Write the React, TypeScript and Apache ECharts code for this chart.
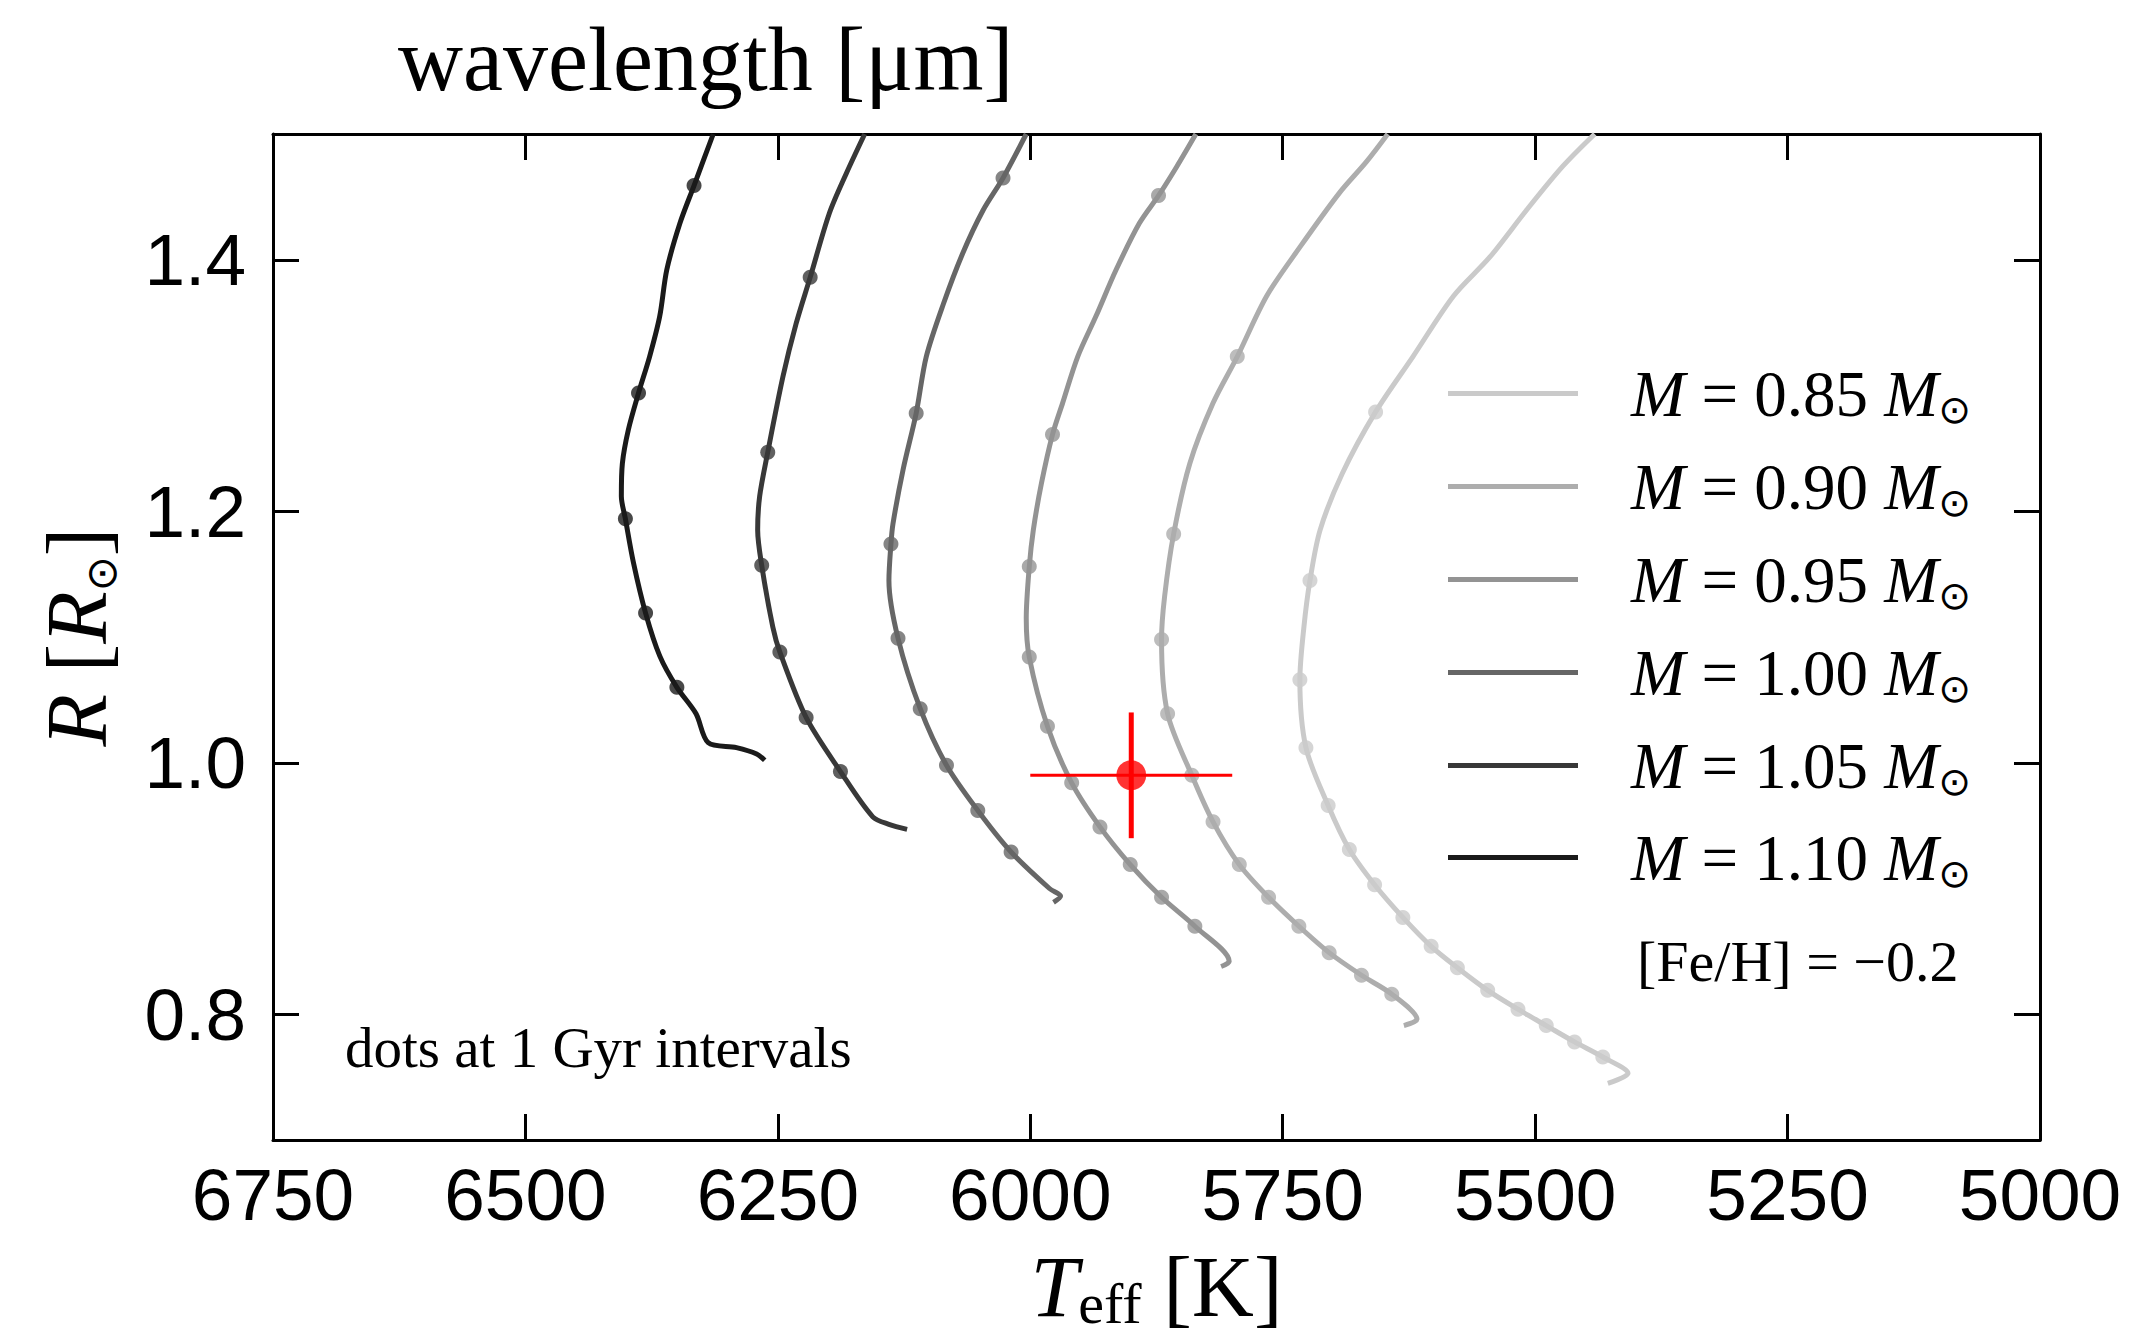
import React, { useEffect, useRef } from "react";
import * as echarts from "echarts";

const SERIF = "'Liberation Serif', 'Times New Roman', serif";
const SANS = "'Liberation Sans', Arial, sans-serif";
const SYM = "'DejaVu Sans', sans-serif";

const masses = ["0.85", "0.90", "0.95", "1.00", "1.05", "1.10"];
const trackColors = ["#cacaca", "#adadad", "#939393", "#666666", "#383838", "#1a1a1a"];

// Evolutionary tracks: [Teff (K), R (Rsun)]
const track085 = [
  [5441, 1.5], [5473, 1.474], [5509, 1.439], [5545, 1.402], [5581, 1.371], [5621, 1.323],
  [5658, 1.279], [5691, 1.23], [5713, 1.185], [5723, 1.145], [5729, 1.108], [5733, 1.066],
  [5727, 1.012], [5705, 0.966], [5684, 0.931], [5659, 0.903], [5631, 0.877], [5603, 0.854],
  [5577, 0.837], [5547, 0.819], [5517, 0.804], [5489, 0.791], [5461, 0.778], [5433, 0.766],
  [5408, 0.753], [5428, 0.745],
];
const track090 = [
  [5646, 1.5], [5667, 1.478], [5694, 1.453], [5733, 1.41], [5766, 1.371], [5795, 1.323],
  [5819, 1.286], [5842, 1.238], [5858, 1.182], [5867, 1.132], [5870, 1.098], [5864, 1.039],
  [5840, 0.99], [5819, 0.953], [5793, 0.919], [5764, 0.893], [5734, 0.87], [5704, 0.849],
  [5672, 0.831], [5642, 0.816], [5617, 0.796], [5630, 0.791],
];
const track095 = [
  [5836, 1.5], [5855, 1.474], [5873, 1.451], [5892, 1.429], [5915, 1.392], [5935, 1.355],
  [5953, 1.323], [5968, 1.286], [5978, 1.261], [5989, 1.222], [5997, 1.185], [6001, 1.156],
  [6004, 1.115], [6001, 1.084], [5983, 1.029], [5959, 0.984], [5931, 0.949], [5901, 0.919],
  [5870, 0.893], [5837, 0.87], [5803, 0.842], [5811, 0.838],
];
const track100 = [
  [6004, 1.5], [6027, 1.465], [6047, 1.439], [6067, 1.405], [6086, 1.365], [6103, 1.323],
  [6113, 1.278], [6126, 1.233], [6136, 1.19], [6138, 1.174], [6140, 1.145], [6131, 1.099],
  [6109, 1.043], [6083, 0.998], [6052, 0.962], [6019, 0.929], [5981, 0.9], [5970, 0.894],
  [5977, 0.889],
];
const track105 = [
  [6164, 1.5], [6182, 1.469], [6199, 1.437], [6218, 1.386], [6232, 1.349], [6245, 1.307],
  [6260, 1.247], [6268, 1.212], [6270, 1.185], [6266, 1.157], [6255, 1.108], [6248, 1.088],
  [6222, 1.036], [6188, 0.993], [6156, 0.957], [6140, 0.951], [6122, 0.947],
];
const track110 = [
  [6314, 1.5], [6333, 1.459], [6347, 1.429], [6360, 1.392], [6367, 1.355], [6377, 1.323],
  [6388, 1.294], [6398, 1.265], [6404, 1.238], [6405, 1.212], [6401, 1.194], [6393, 1.159],
  [6381, 1.119], [6367, 1.085], [6350, 1.06], [6331, 1.039], [6319, 1.016], [6291, 1.012],
  [6271, 1.007], [6263, 1.002],
];

// Dots at 1 Gyr intervals
const dots085 = [
  [5658, 1.279], [5723, 1.145], [5733, 1.066], [5727, 1.012], [5705, 0.966], [5684, 0.931],
  [5659, 0.903], [5631, 0.877], [5603, 0.854], [5577, 0.837], [5547, 0.819], [5517, 0.804],
  [5489, 0.791], [5461, 0.778], [5433, 0.766],
];
const dots090 = [
  [5795, 1.323], [5858, 1.182], [5870, 1.098], [5864, 1.039], [5840, 0.99], [5819, 0.953],
  [5793, 0.919], [5764, 0.893], [5734, 0.87], [5704, 0.849], [5672, 0.831], [5642, 0.816],
];
const dots095 = [
  [5873, 1.451], [5978, 1.261], [6001, 1.156], [6001, 1.084], [5983, 1.029], [5959, 0.984],
  [5931, 0.949], [5901, 0.919], [5870, 0.893], [5837, 0.87],
];
const dots100 = [
  [6027, 1.465], [6113, 1.278], [6138, 1.174], [6131, 1.099], [6109, 1.043], [6083, 0.998],
  [6052, 0.962], [6019, 0.929],
];
const dots105 = [
  [6218, 1.386], [6260, 1.247], [6266, 1.157], [6248, 1.088], [6222, 1.036], [6188, 0.993],
];
const dots110 = [
  [6333, 1.459], [6388, 1.294], [6401, 1.194], [6381, 1.119], [6350, 1.06],
];

const tracks = [track085, track090, track095, track100, track105, track110];
const dots = [dots085, dots090, dots095, dots100, dots105, dots110];

// Observed star
const obsTeff = 5900;
const obsTeffErr = 100;
const obsR = 0.99;
const obsRErr = 0.05;

const yTickValues = [0.8, 1.0, 1.2, 1.4];
const legendCenters = [396, 489, 582, 675, 768, 860];

const seriesName = (m: string) => `M = ${m} M⊙`;

export default function App() {
  const ref = useRef<HTMLDivElement>(null);
  useEffect(() => {
    if (!ref.current) return;
    const chart = echarts.init(ref.current, undefined, { renderer: "svg" });

    const lineSeries = tracks.map((d, i) => ({
      type: "line",
      name: seriesName(masses[i]),
      data: d,
      smooth: 0.3,
      symbol: "none",
      showSymbol: false,
      color: trackColors[i],
      lineStyle: { width: 5, color: trackColors[i] },
      xAxisIndex: 0,
      yAxisIndex: 0,
      z: 2,
      silent: true,
    }));
    const dotSeries = dots.map((d, i) => ({
      type: "scatter",
      name: "dots " + masses[i],
      data: d,
      symbol: "circle",
      symbolSize: 15,
      itemStyle: { color: trackColors[i] },
      xAxisIndex: 0,
      yAxisIndex: 0,
      z: 3,
      silent: true,
    }));

    const legendRich = {
      sp: { width: 48, fontSize: 62, lineHeight: 70 },
      i: { fontFamily: SERIF, fontStyle: "italic", fontSize: 65, lineHeight: 70, color: "#000" },
      n: { fontFamily: SERIF, fontSize: 65, lineHeight: 70, color: "#000" },
      s: { fontFamily: SYM, fontSize: 39, lineHeight: 24, verticalAlign: "bottom", color: "#000" },
    };

    const legends = masses.map((m, i) => ({
      data: [seriesName(m)],
      left: 1448,
      top: legendCenters[i] - 35,
      padding: 0,
      icon: "rect",
      itemWidth: 130,
      itemHeight: 5,
      selectedMode: false,
      itemStyle: { borderWidth: 0 },
      formatter: () => `{sp| }{i|M}{n| = ${m} }{i|M}{s|⊙}`,
      textStyle: { rich: legendRich },
    }));

    const axisLineStyle = { color: "#000", width: 3 };

    const option = {
      animation: false,
      backgroundColor: "#fff",
      textStyle: { fontFamily: SANS },
      grid: { left: 273, right: 92, top: 134, bottom: 204, containLabel: false },
      title: [
        {
          text: "wavelength [μm]",
          left: 398,
          top: 13,
          padding: 0,
          textStyle: { fontFamily: SERIF, fontSize: 90, fontWeight: "normal", color: "#000", lineHeight: 92 },
        },
        {
          text: "dots at 1 Gyr intervals",
          left: 345,
          top: 1020,
          padding: 0,
          textStyle: { fontFamily: SERIF, fontSize: 57, fontWeight: "normal", color: "#000", lineHeight: 54 },
        },
        {
          text: "[Fe/H] = −0.2",
          left: 1637,
          top: 935,
          padding: 0,
          textStyle: { fontFamily: SERIF, fontSize: 58, fontWeight: "normal", color: "#000", lineHeight: 52 },
        },
      ],
      legend: legends,
      xAxis: [
        {
          type: "value",
          position: "bottom",
          min: 5000,
          max: 6750,
          interval: 250,
          inverse: true,
          splitLine: { show: false },
          axisLine: { show: true, lineStyle: axisLineStyle },
          axisTick: { show: true, inside: true, length: 26, lineStyle: { color: "#000", width: 3 } },
          axisLabel: {
            show: true,
            margin: 18,
            fontFamily: SANS,
            fontSize: 73,
            color: "#000",
            showMinLabel: true,
            showMaxLabel: true,
            formatter: (v: number) => String(Math.round(v)),
          },
          name: "{i|T}{e|eff}{n| [K]}",
          nameLocation: "middle",
          nameGap: 102,
          nameTextStyle: {
            rich: {
              i: { fontFamily: SERIF, fontStyle: "italic", fontSize: 86, lineHeight: 90, color: "#000" },
              e: { fontFamily: SERIF, fontSize: 58, lineHeight: 41, verticalAlign: "bottom", color: "#000" },
              n: { fontFamily: SERIF, fontSize: 86, lineHeight: 90, color: "#000" },
            },
          },
        },
        {
          type: "value",
          position: "top",
          min: 5000,
          max: 6750,
          interval: 250,
          inverse: true,
          splitLine: { show: false },
          axisLine: { show: true, lineStyle: axisLineStyle },
          axisTick: { show: true, inside: true, length: 26, lineStyle: { color: "#000", width: 3 } },
          axisLabel: { show: false },
        },
      ],
      yAxis: [
        {
          type: "value",
          position: "left",
          min: 0.7,
          max: 1.5,
          splitLine: { show: false },
          axisLine: { show: true, lineStyle: axisLineStyle },
          axisTick: {
            show: true,
            inside: true,
            length: 26,
            customValues: yTickValues,
            lineStyle: { color: "#000", width: 3 },
          },
          axisLabel: {
            show: true,
            margin: 27,
            fontFamily: SANS,
            fontSize: 73,
            color: "#000",
            customValues: yTickValues,
            formatter: (v: number) => v.toFixed(1),
          },
          name: "{i|R}{n| [}{i|R}{s|⊙}{n|]}",
          nameLocation: "middle",
          nameRotate: 90,
          nameGap: 151,
          nameTextStyle: {
            rich: {
              i: { fontFamily: SERIF, fontStyle: "italic", fontSize: 86, lineHeight: 90, color: "#000" },
              n: { fontFamily: SERIF, fontSize: 86, lineHeight: 90, color: "#000" },
              s: { fontFamily: SYM, fontSize: 42, lineHeight: 20, verticalAlign: "bottom", color: "#000" },
            },
          },
        },
        {
          type: "value",
          position: "right",
          min: 0.7,
          max: 1.5,
          splitLine: { show: false },
          axisLine: { show: true, lineStyle: axisLineStyle },
          axisTick: {
            show: true,
            inside: true,
            length: 26,
            customValues: yTickValues,
            lineStyle: { color: "#000", width: 3 },
          },
          axisLabel: { show: false, customValues: yTickValues },
        },
      ],
      series: [
        ...lineSeries,
        ...dotSeries,
        {
          type: "line",
          name: "Teff error",
          data: [
            [obsTeff - obsTeffErr, obsR],
            [obsTeff + obsTeffErr, obsR],
          ],
          symbol: "none",
          lineStyle: { color: "#ff0000", width: 3 },
          z: 5,
          silent: true,
        },
        {
          type: "line",
          name: "R error",
          data: [
            [obsTeff, obsR - obsRErr],
            [obsTeff, obsR + obsRErr],
          ],
          symbol: "none",
          lineStyle: { color: "#ff0000", width: 5 },
          z: 5,
          silent: true,
        },
        {
          type: "scatter",
          name: "observed",
          data: [[obsTeff, obsR]],
          symbol: "circle",
          symbolSize: 30,
          itemStyle: { color: "#ff0000" },
          z: 6,
          silent: true,
        },
      ],
    };

    chart.setOption(option as any);
    return () => chart.dispose();
  }, []);

  return (
    <div
      ref={ref}
      style={{ position: "absolute", left: 0, top: 0, width: 2132, height: 1344, background: "#fff" }}
    />
  );
}
